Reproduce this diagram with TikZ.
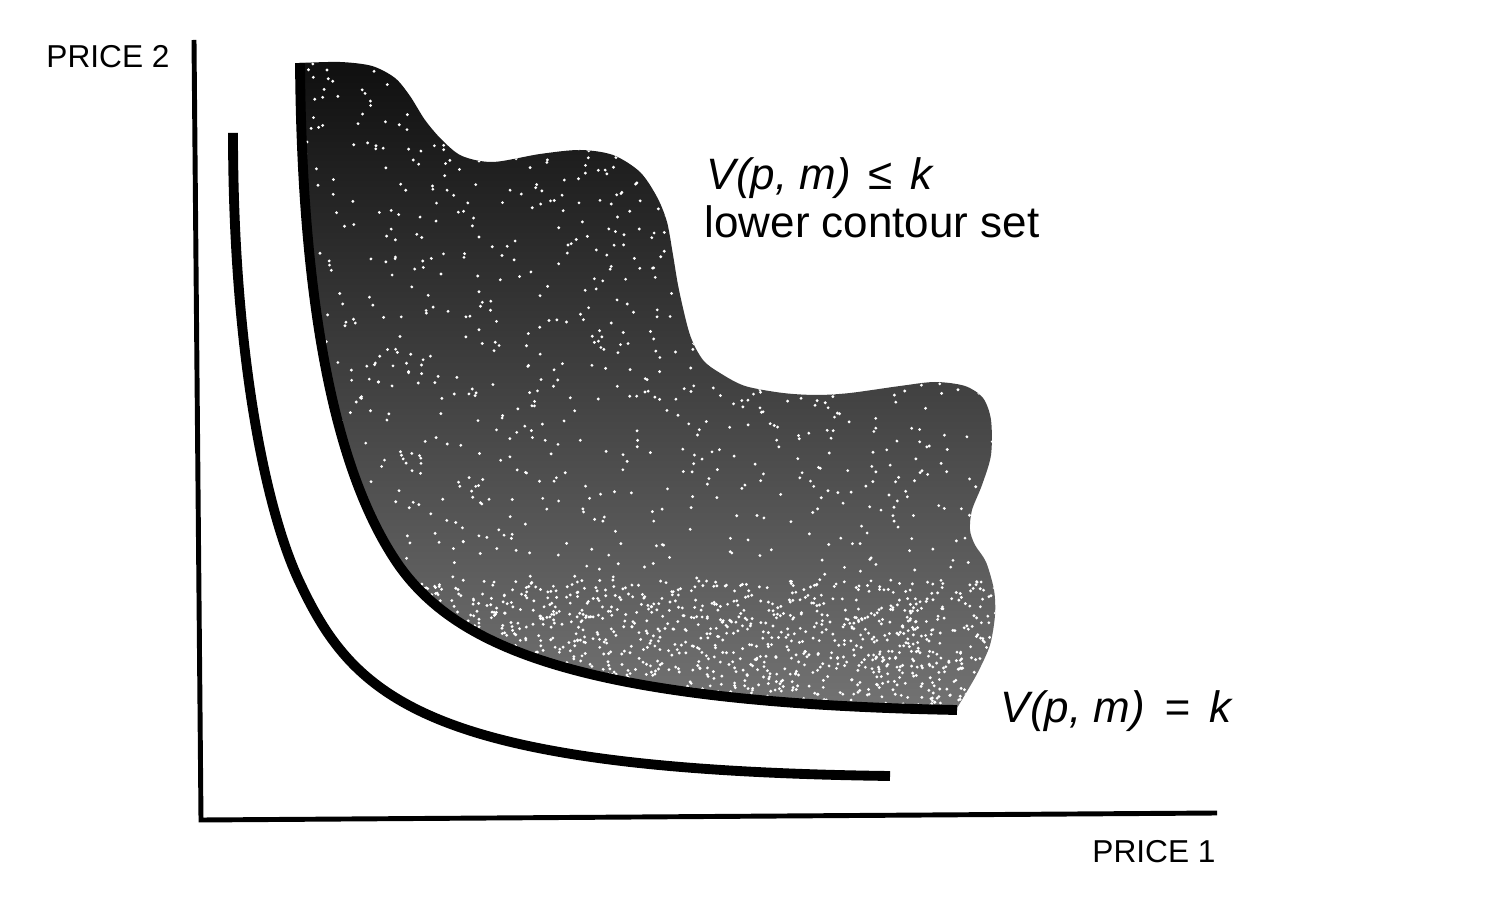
\documentclass[tikz,border=0pt]{standalone}
\usepackage{fontspec}
\setmainfont{Liberation Sans}
\usepackage{tikz}
\usetikzlibrary{positioning}

% outline of the shaded set (pixel units)
\newcommand{\lowerset}{(300,63)
  -- plot[smooth] coordinates {(300,63) (340,62) (372,66) (395,78) (410,96) (425,120) (442,140) (462,156) (493,162) (540,154) (580,150) (613,155) (640,172) (657,197) (667,222) (673,255) (679,290) (690,335) (703,360) (720,373) (745,386) (783,393) (817,395) (850,393) (900,386) (935,382) (965,386) (983,398) (991,420) (991,455) (982,485) (972,510) (970,530) (975,545) (986,562) (994,590) (995,615) (990,645) (978,672) (966,693) (957,708)}
  -- (957,710) .. controls (590,703) and (460,650) .. (400,567)
  .. controls (342,485) and (302,330) .. (300,63)
  -- cycle}

\tikzset{
  axis/.style={line width=1.4pt},
  curve/.style={line width=2.8pt},
  pricelabel/.style={font=\fontsize{9}{10}\selectfont},
  setlabel/.style={font=\fontsize{12.5}{12}\selectfont, inner sep=0pt}
}

\begin{document}
\begin{tikzpicture}[x=0.01cm,y=-0.01cm]
\useasboundingbox (0,0) rectangle (1488,922);

% shaded region
\shade[top color=black!94, middle color=black!86, bottom color=black!55] \lowerset;
\begin{scope}
\clip \lowerset;
\pgfmathsetseed{11}
\foreach \i in {1,...,1300}{
  \fill[white] ({300+700*rnd},{60+650*rnd}) circle (0.45pt);
}
\foreach \i in {1,...,1300}{
  \fill[white] ({300+700*rnd},{580+135*rnd}) circle (0.45pt);
}
\end{scope}

% axes
\coordinate (top) at (194,40);
\coordinate (origin) at (201,820);
\coordinate (right) at (1217,813);
\draw[axis] (top) -- (origin) -- (right);

% curves
\coordinate (outerA) at (300,63);
\coordinate (outerB) at (400,567);
\coordinate (outerC) at (957,710);
\draw[curve] (outerA) .. controls (302,330) and (342,485) .. (outerB)
  .. controls (460,650) and (590,703) .. (outerC);
\coordinate (innerA) at (233,133);
\coordinate (innerB) at (300,583);
\coordinate (innerC) at (890,776);
\draw[curve] (innerA) .. controls (233,350) and (265,510) .. (innerB)
  .. controls (355,700) and (430,770) .. (innerC);

% labels
\node[pricelabel] (p2) at (108,57) {PRICE 2};
\node[pricelabel] (p1) at (1154,852) {PRICE 1};
\node[setlabel, anchor=base west] (vle) at (706,190) {\itshape V(p, m)\hspace{5pt}≤\hspace{5pt}k};
\node[setlabel, anchor=base west] (lcs) at (704,238) {lower contour set};
\node[setlabel, anchor=base west] (veq) at (1000,722) {\itshape V(p, m)\hspace{5.5pt}=\hspace{5.5pt}k};
\end{tikzpicture}
\end{document}
